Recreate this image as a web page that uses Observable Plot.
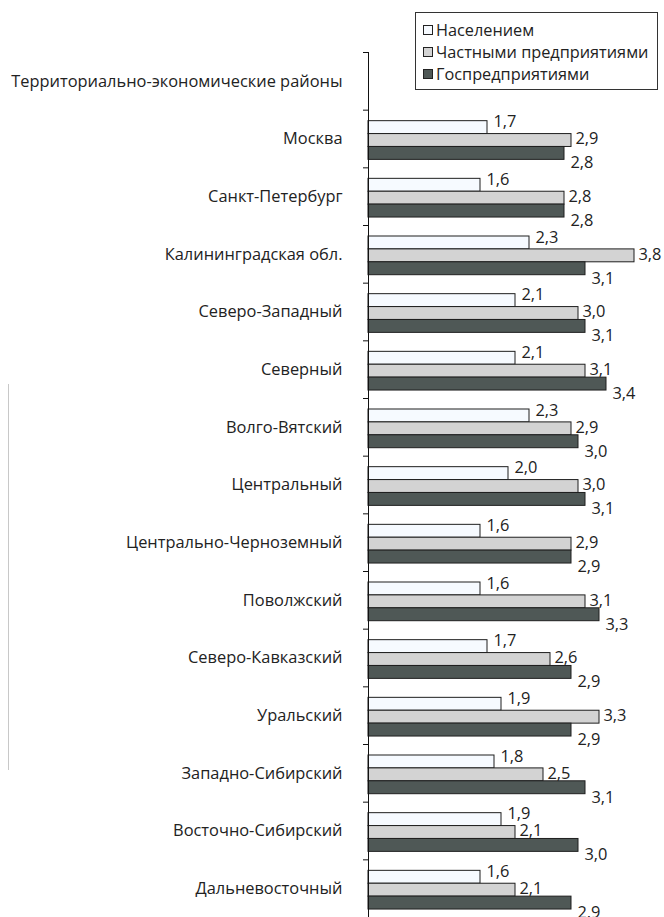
<!DOCTYPE html>
<html>
<head>
<meta charset="utf-8">
<script src="https://cdn.jsdelivr.net/npm/d3@7"></script>
<script src="https://cdn.jsdelivr.net/npm/@observablehq/plot@0.6"></script>
<style>
  html, body { margin: 0; padding: 0; background: #fff; }
  #wrap { position: relative; width: 664px; height: 917px; overflow: hidden; font-family: "Open Sans", sans-serif; }
  #legend { position: absolute; left: 415px; top: 12px; width: 243px; height: 78px; border: 1px solid #333; background: #fff; box-sizing: border-box; padding: 6px 0 0 7px; font-size: 16.3px; color: #222; }
  .li { display: flex; align-items: center; height: 22px; line-height: 22px; white-space: nowrap; }
  .sw { width: 8px; height: 8px; border: 1px solid #222; margin-right: 3px; flex: none; }
  #vline { position: absolute; left: 8px; top: 384px; width: 1px; height: 386px; background: #c8c8c8; }
</style>
</head>
<body>
<div id="wrap">
  <div id="vline"></div>
  <div id="chart"></div>
  <div id="legend"></div>
</div>
<script>
const regions = [
  "Территориально-экономические районы",
  "Москва",
  "Санкт-Петербург",
  "Калининградская обл.",
  "Северо-Западный",
  "Северный",
  "Волго-Вятский",
  "Центральный",
  "Центрально-Черноземный",
  "Поволжский",
  "Северо-Кавказский",
  "Уральский",
  "Западно-Сибирский",
  "Восточно-Сибирский",
  "Дальневосточный"
];
const seriesNames = ["Населением", "Частными предприятиями", "Госпредприятиями"];
// values per region (null = no bar), order matches regions
const naseleniem   = [null, 1.7, 1.6, 2.3, 2.1, 2.1, 2.3, 2.0, 1.6, 1.6, 1.7, 1.9, 1.8, 1.9, 1.6];
const chastnymi    = [null, 2.9, 2.8, 3.8, 3.0, 3.1, 2.9, 3.0, 2.9, 3.1, 2.6, 3.3, 2.5, 2.1, 2.1];
const gospred      = [null, 2.8, 2.8, 3.1, 3.1, 3.4, 3.0, 3.1, 2.9, 3.3, 2.9, 2.9, 3.1, 3.0, 2.9];

const colors = ["#f6faff", "#d3d3d3", "#4f5856"];
const seriesValues = [naseleniem, chastnymi, gospred];

const rows = [];
seriesValues.forEach((arr, s) => arr.forEach((v, i) => { if (v != null) rows.push({i, s, value: v, region: regions[i]}); }));

const band = 865 / 15;
const barH = 12.9;
const top0 = 11;
const fmt = v => v.toFixed(1).replace(".", ",");
const labelDy = [-17, 0, 24];
const labelDx = [6, 4, 6];
const FS = 16.4;

const marks = [];
seriesValues.forEach((arr, s) => {
  const insetTop = top0 + s * barH;
  const insetBottom = band - insetTop - barH;
  const data = rows.filter(d => d.s === s);
  marks.push(Plot.rectX(data, {
    x: "value", y1: d => d.i - 0.5, y2: d => d.i + 0.5,
    insetTop, insetBottom, fill: colors[s], stroke: "#1e1e1e", strokeWidth: 1
  }));
});
seriesValues.forEach((arr, s) => {
  const data = rows.filter(d => d.s === s);
  marks.push(Plot.text(data, {
    x: "value", y: "i", text: d => fmt(d.value), textAnchor: "start",
    dx: labelDx[s], dy: labelDy[s], fill: "#222", fontSize: FS
  }));
});
marks.push(Plot.axisY({ticks: d3.range(regions.length), tickSize: 0, tickPadding: 26, tickFormat: i => regions[i], fontSize: FS, fill: "#222", label: null}));
marks.push(Plot.axisY({ticks: d3.range(-0.5, regions.length, 1), tickSize: 5, tickFormat: () => "", stroke: "#111", label: null}));
marks.push(Plot.ruleX([0], {stroke: "#111", strokeWidth: 1}));

const chart = Plot.plot({
  width: 664,
  height: 917,
  marginLeft: 368,
  marginRight: 2,
  marginTop: 52,
  marginBottom: 0,
  style: {fontFamily: "Open Sans, sans-serif", fontSize: FS + "px", background: "transparent", overflow: "visible", color: "#222"},
  x: {type: "linear", domain: [0, 4.2], axis: null},
  y: {type: "linear", domain: [14.5, -0.5], axis: null},
  marks
});
document.getElementById("chart").appendChild(chart);

const legend = document.getElementById("legend");
seriesNames.forEach((n, s) => {
  const row = document.createElement("div");
  row.className = "li";
  const sw = document.createElement("span");
  sw.className = "sw";
  sw.style.background = colors[s];
  const t = document.createElement("span");
  t.textContent = n;
  row.appendChild(sw); row.appendChild(t);
  legend.appendChild(row);
});
</script>
</body>
</html>
